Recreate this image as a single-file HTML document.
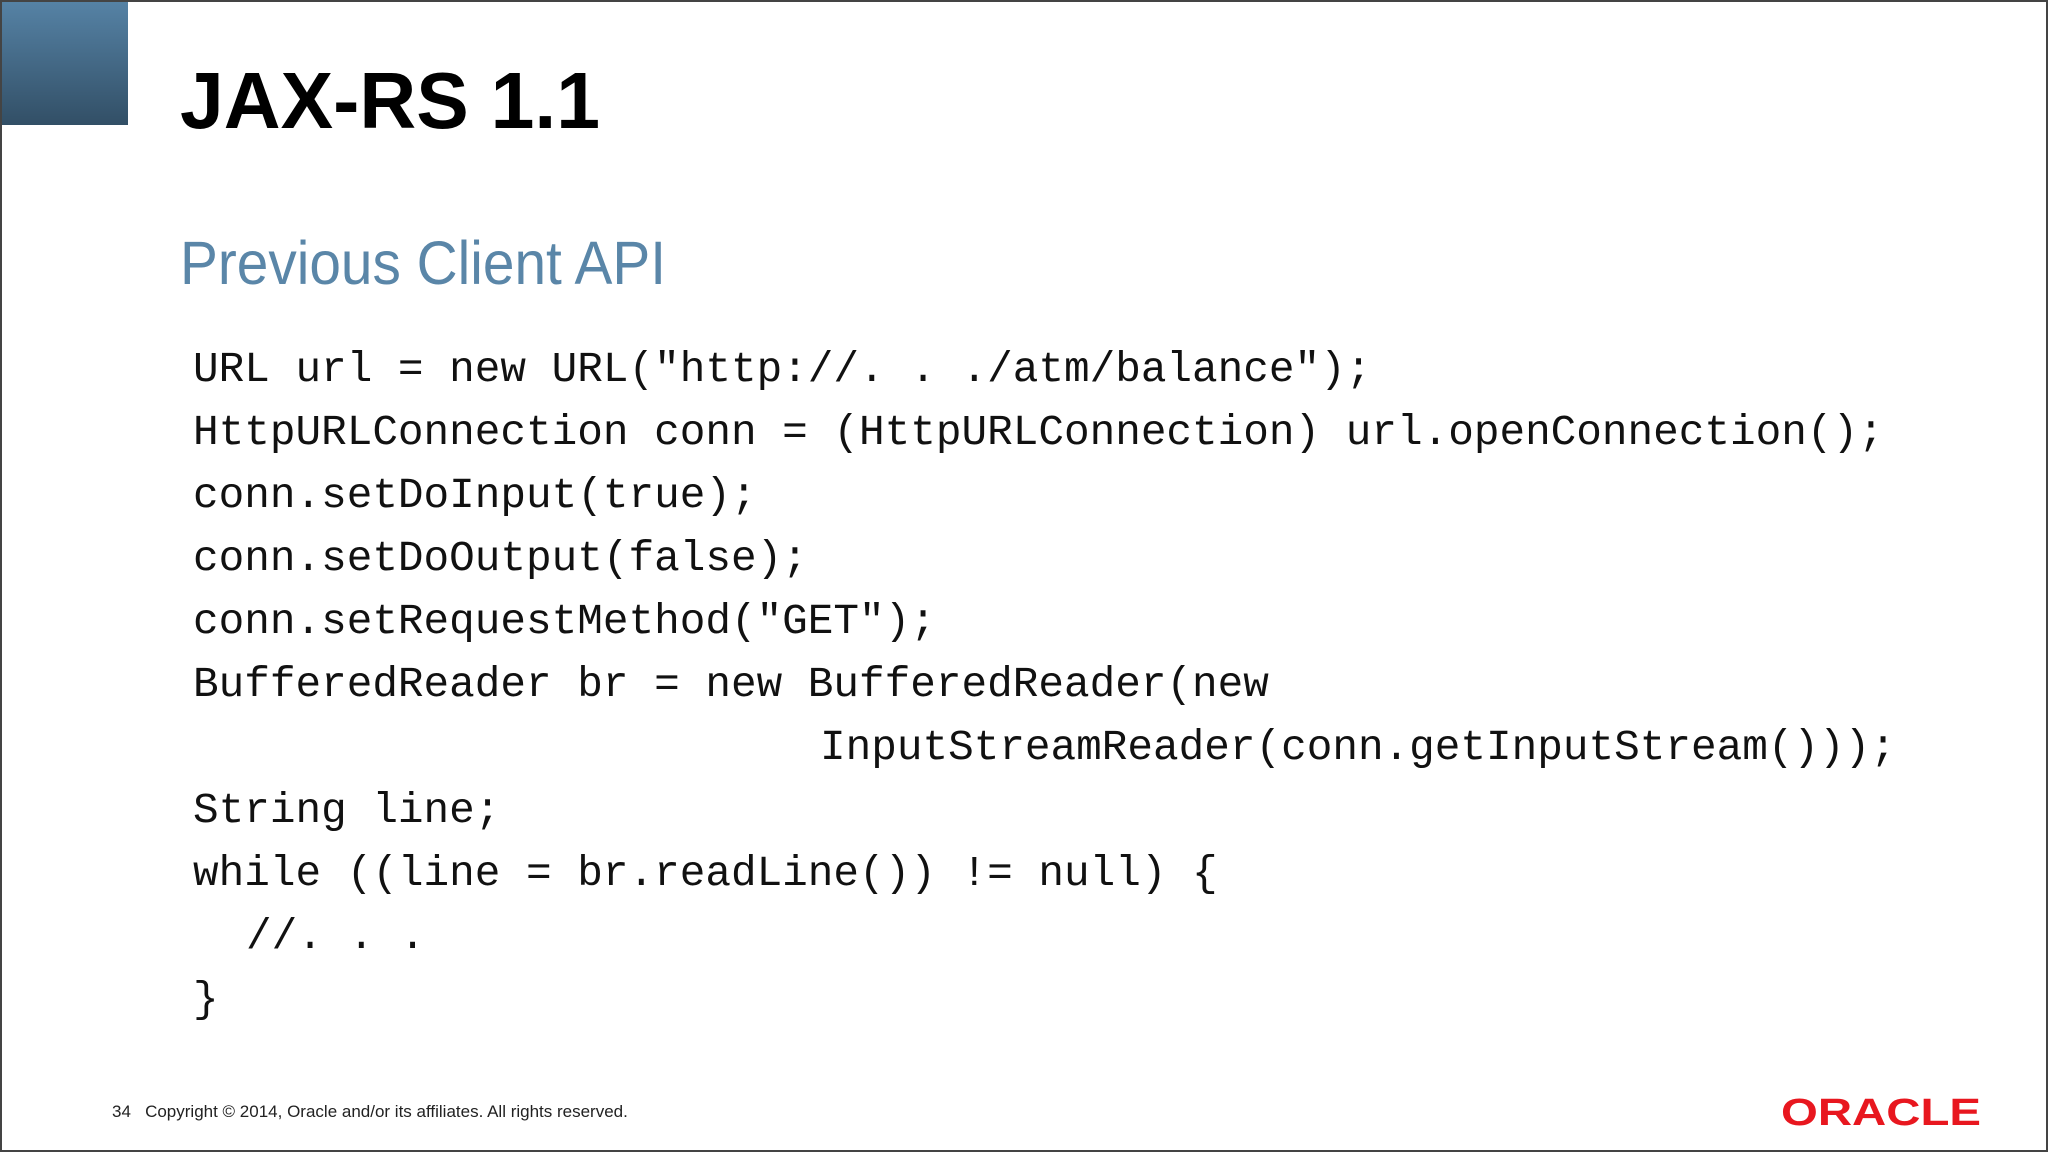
<!DOCTYPE html>
<html><head><meta charset="utf-8"><style>
html,body{margin:0;padding:0;background:#fff}
svg{display:block}
.c{font-family:"Liberation Mono",monospace;font-size:42.7px;fill:#111}
</style></head><body>
<svg width="2048" height="1152" viewBox="0 0 2048 1152" xmlns="http://www.w3.org/2000/svg">
<defs><linearGradient id="g" x1="0" y1="0" x2="0" y2="1"><stop offset="0" stop-color="#5683a6"/><stop offset="1" stop-color="#324f66"/></linearGradient></defs>
<rect x="0" y="0" width="2048" height="1152" fill="#fff"/>
<rect x="0" y="0" width="128" height="125" fill="url(#g)"/>
<rect x="1" y="1" width="2046" height="1150" fill="none" stroke="#444" stroke-width="2"/>
<text x="180" y="128" font-family="Liberation Sans,sans-serif" font-weight="bold" font-size="80" fill="#000" textLength="420" lengthAdjust="spacingAndGlyphs">JAX-RS 1.1</text>
<text x="180" y="284" font-family="Liberation Sans,sans-serif" font-size="61" fill="#5a86a8" textLength="486" lengthAdjust="spacingAndGlyphs">Previous Client API</text>
<g class="c">
<text x="193" y="381">URL url = new URL("http://. . ./atm/balance");</text>
<text x="193" y="444">HttpURLConnection conn = (HttpURLConnection) url.openConnection();</text>
<text x="193" y="507">conn.setDoInput(true);</text>
<text x="193" y="570">conn.setDoOutput(false);</text>
<text x="193" y="633">conn.setRequestMethod("GET");</text>
<text x="193" y="696">BufferedReader br = new BufferedReader(new</text>
<text x="820" y="759">InputStreamReader(conn.getInputStream()));</text>
<text x="193" y="822">String line;</text>
<text x="193" y="885">while ((line = br.readLine()) != null) {</text>
<text x="246" y="948">//. . .</text>
<text x="193" y="1011">}</text>
</g>
<text x="112" y="1117" font-family="Liberation Sans,sans-serif" font-size="17" fill="#222" xml:space="preserve">34   Copyright © 2014, Oracle and/or its affiliates. All rights reserved.</text>
<text x="1781" y="1125" font-family="Liberation Sans,sans-serif" font-weight="bold" font-size="38" fill="#e8171f" textLength="200" lengthAdjust="spacingAndGlyphs">ORACLE</text>
</svg>
</body></html>
